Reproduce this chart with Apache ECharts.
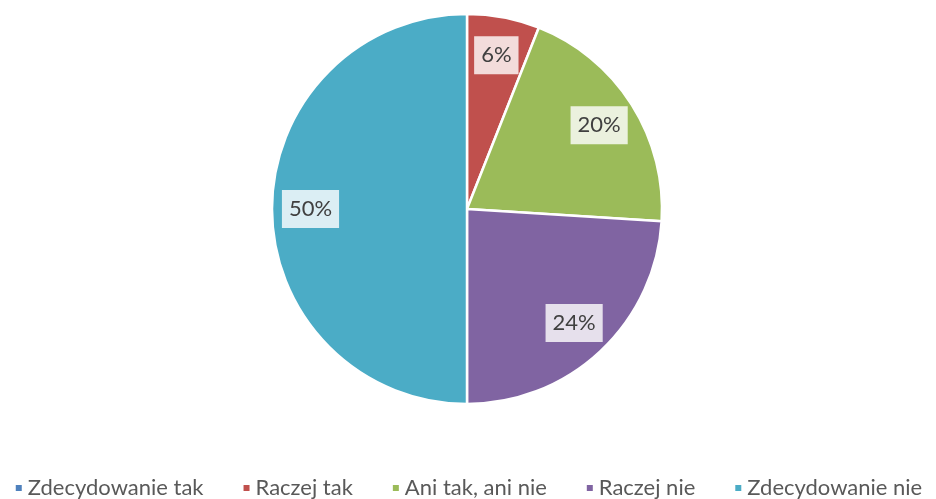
<!DOCTYPE html>
<html>
<head>
<meta charset="utf-8">
<script src="https://cdn.jsdelivr.net/npm/echarts@6/dist/echarts.min.js"></script>
<style>
  html, body { margin: 0; padding: 0; background: #fff; }
  #chart { width: 936px; height: 499px; }
</style>
</head>
<body>
<div id="chart"></div>
<script>
const categories = ['Zdecydowanie tak', 'Raczej tak', 'Ani tak, ani nie', 'Raczej nie', 'Zdecydowanie nie'];
const values = [0, 6, 20, 24, 50];
const colors = ['#4F81BD', '#C0504D', '#9BBB59', '#8064A2', '#4BACC6'];

const chart = echarts.init(document.getElementById('chart'));

const pieData = categories.map((name, i) => ({ name: name, value: values[i] }));
// labels only for non-zero slices
const labelData = categories.map((name, i) => ({
  name: name,
  value: values[i],
  label: { show: values[i] > 0 }
}));

const option = {
  color: colors,
  animation: false,
  legend: {
    top: 472,
    left: 'center',
    itemWidth: 8,
    itemHeight: 8,
    itemGap: 38,
    icon: 'rect',
    textStyle: { fontFamily: 'Lato', fontSize: 22, color: '#595959' },
    data: categories
  },
  series: [
    {
      type: 'pie',
      center: [467, 209],
      radius: [0, 195],
      startAngle: 90,
      clockwise: true,
      silent: true,
      itemStyle: { borderColor: '#fff', borderWidth: 2.5 },
      label: { show: false },
      labelLine: { show: false },
      data: pieData
    },
    {
      // invisible ring only used to put the labels further out
      type: 'pie',
      center: [467, 209],
      radius: [112, 195],
      startAngle: 90,
      clockwise: true,
      silent: true,
      itemStyle: { color: 'rgba(0,0,0,0)', borderWidth: 0 },
      label: {
        position: 'inside',
        formatter: p => Math.round(p.percent) + '%',
        fontFamily: 'Lato',
        fontSize: 22,
        color: '#404040',
        backgroundColor: 'rgba(255,255,255,0.8)',
        padding: [8, 7]
      },
      labelLine: { show: false },
      data: labelData
    }
  ]
};

chart.setOption(option);
</script>
</body>
</html>
